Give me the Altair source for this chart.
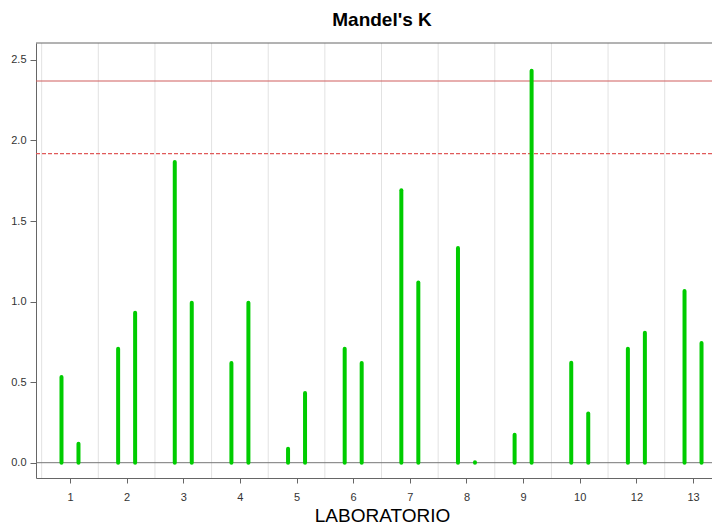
import json
import altair as alt
import pandas as pd

# Data (line ends, round caps excluded)
labs = ["1", "2", "3", "4", "5", "6", "7", "8", "9", "10", "12", "13"]
k_first = [0.532, 0.708, 1.867, 0.619, 0.087, 0.708, 1.691, 1.333, 0.174, 0.621, 0.708, 1.066]
k_second = [0.118, 0.930, 0.992, 0.992, 0.433, 0.619, 1.118, 0.002, 2.432, 0.305, 0.806, 0.743]
crit_1 = 2.369   # solid line
crit_5 = 1.918   # dashed line

OFFSET = 0.15
n = len(labs)

rows = []
for i, lab in enumerate(labs):
    rows.append({"lab": lab, "pos": i + 1 - OFFSET, "k": k_first[i]})
    rows.append({"lab": lab, "pos": i + 1 + OFFSET, "k": k_second[i]})
bars_df = pd.DataFrame(rows)

grid_df = pd.DataFrame({"b": [i + 0.5 for i in range(n)]})
crit_df = pd.DataFrame({"v": [crit_1], "kind": ["1%"]})
crit5_df = pd.DataFrame({"v": [crit_5], "kind": ["5%"]})
zero_df = pd.DataFrame({"v": [0.0]})

W, H = 676, 435
x_scale = alt.Scale(domain=[0.4, 12.335], nice=False, zero=False)
y_scale = alt.Scale(domain=[-0.095, 2.605], nice=False, zero=False)

label_expr = json.dumps(labs) + "[round(datum.value) - 1]"

x_axis = alt.Axis(
    values=list(range(1, n + 1)),
    labelExpr=label_expr,
    grid=False,
    tickSize=5,
    labelPadding=8,
    labelFontSize=11,
    title="LABORATORIO",
    titleFontSize=19,
    titleFontWeight="normal",
    titleColor="black",
    titleBaseline="alphabetic",
    titleY=43,
    titleX=W / 2 + 8,
    titleAlign="center",
)
y_axis = alt.Axis(
    values=[0.0, 0.5, 1.0, 1.5, 2.0, 2.5],
    format=".1f",
    grid=False,
    tickSize=6,
    labelPadding=4,
    labelFontSize=11,
    title=None,
)

grid = alt.Chart(grid_df).mark_rule(color="#e2e2e2", strokeWidth=1).encode(
    x=alt.X("b:Q", scale=x_scale, axis=x_axis)
)

top_frame = alt.Chart(zero_df).mark_rule(color="#666666", strokeWidth=1).encode(
    y=alt.value(0)
)

zero_line = alt.Chart(zero_df).mark_rule(color="#777777", strokeWidth=1).encode(
    y=alt.Y("v:Q", scale=y_scale, axis=y_axis)
)

crit_line = alt.Chart(crit_df).mark_rule(color="#cf5f5f", strokeWidth=1.2).encode(
    y=alt.Y("v:Q", scale=y_scale)
)
crit5_line = alt.Chart(crit5_df).mark_rule(
    color="#e05a5a", strokeWidth=1.2, strokeDash=[4, 2]
).encode(y=alt.Y("v:Q", scale=y_scale))

bars = alt.Chart(bars_df).mark_rule(
    color="#00cc00", strokeWidth=4, strokeCap="round"
).encode(
    x=alt.X("pos:Q", scale=x_scale),
    y=alt.Y("k:Q", scale=y_scale),
    y2=alt.datum(0),
)

chart = (
    alt.layer(grid, zero_line, crit_line, crit5_line, bars, top_frame)
    .properties(
        width=W,
        height=H,
        autosize=alt.AutoSizeParams(type="none"),
        padding={"left": 28, "top": 35, "right": 0, "bottom": 46},
        title=alt.TitleParams(
            text="Mandel's K",
            fontSize=19,
            fontWeight="bold",
            font="Liberation Sans",
            anchor="middle",
            dx=8,
            dy=18,
            offset=16,
            baseline="alphabetic",
            color="black",
        ),
    )
    .configure_view(stroke=None)
    .configure_axis(
        domainColor="#666666",
        tickColor="#666666",
        labelColor="#333333",
        labelFont="Liberation Sans",
        titleFont="Liberation Sans",
    )
)

chart.save("out.html", embed_options={"renderer": "svg", "actions": False})
